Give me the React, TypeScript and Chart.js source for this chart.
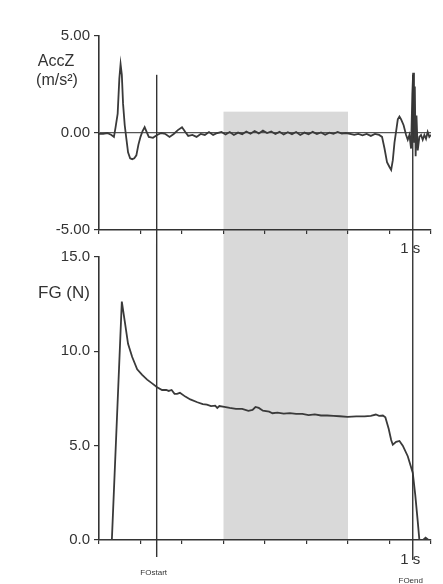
import { useEffect, useRef } from 'react';
import { Chart, registerables } from 'chart.js';

Chart.register(...registerables);

// x axis in tick units (9 ticks, 0..8)
const xTicks = [0, 1, 2, 3, 4, 5, 6, 7, 8];
const accTicks = [-5, 0, 5];
const fgTicks = [0, 5, 10, 15];

const accTime = [
  0, 0.1, 0.2, 0.3, 0.36, 0.4, 0.45, 0.49, 0.52, 0.55, 0.58, 0.62, 0.66, 0.7, 0.75, 0.8, 0.85, 0.9, 0.95, 1.0,
  1.05, 1.1, 1.15, 1.2, 1.3, 1.4, 1.5, 1.6, 1.7, 1.8, 1.9, 2.0, 2.08, 2.15, 2.25, 2.35, 2.45, 2.55, 2.65, 2.75,
  2.85, 2.95, 3.05, 3.15, 3.25, 3.35, 3.45, 3.55, 3.65, 3.75, 3.85, 3.95, 4.05, 4.15, 4.25, 4.35, 4.45, 4.55,
  4.65, 4.75, 4.85, 4.95, 5.05, 5.15, 5.25, 5.35, 5.45, 5.55, 5.65, 5.75, 5.85, 5.95, 6.05, 6.15, 6.25, 6.35,
  6.45, 6.55, 6.65, 6.75, 6.82, 6.88, 6.94, 7.0, 7.04, 7.08, 7.12, 7.16, 7.2, 7.24, 7.28, 7.34, 7.4, 7.44, 7.48,
  7.52, 7.55, 7.57, 7.59, 7.61, 7.63, 7.65, 7.68, 7.72, 7.76, 7.8, 7.84, 7.88, 7.92, 7.96, 8.0,
];
const accValue = [
  -0.05, -0.05, 0.0, -0.1, -0.2, 0.3, 1.0, 2.8, 3.55, 3.0, 1.5, 0.4, -0.3, -1.0, -1.3, -1.35, -1.3, -1.15, -0.6, -0.2,
  0.1, 0.3, 0.05, -0.2, -0.25, -0.1, 0.0, -0.05, -0.2, -0.05, 0.15, 0.3, 0.05, -0.15, -0.1, -0.2, -0.05, -0.1, 0.05, -0.1,
  0.0, 0.05, -0.08, 0.05, -0.1, 0.02, -0.06, 0.08, -0.04, 0.1, -0.02, 0.12, 0.0, 0.08, -0.05, 0.06, -0.08, 0.04,
  -0.06, 0.05, -0.1, 0.02, -0.07, 0.06, -0.05, 0.03, -0.09, 0.02, -0.04, 0.05, -0.03, 0.0, -0.05, -0.1, -0.05, -0.12,
  -0.05, -0.15, -0.05, -0.1, -0.2, -0.8, -1.5, -1.75, -1.9, -1.4, -0.5, 0.1, 0.7, 0.85, 0.7, 0.4, -0.1, -0.35, -0.1,
  -0.8, 2.0, 3.1, -0.5, 2.4, -1.2, 0.9, -0.9, -0.2, -0.1, -0.35, -0.1, -0.3, 0.05, -0.2, -0.1,
];

const fgTime = [
  0, 0.31, 0.55, 0.62, 0.7, 0.8, 0.92, 1.04, 1.16, 1.28, 1.4, 1.52, 1.62, 1.68, 1.75, 1.82, 1.88, 1.95, 2.08, 2.2,
  2.37, 2.5, 2.6, 2.7, 2.8, 2.85, 2.9, 3.02, 3.15, 3.3, 3.45, 3.6, 3.7, 3.77, 3.85, 3.95, 4.1, 4.18, 4.3, 4.45,
  4.6, 4.75, 4.9, 5.05, 5.2, 5.35, 5.5, 5.65, 5.8, 5.99, 6.2, 6.4, 6.55, 6.67, 6.75, 6.84, 6.9, 6.98, 7.04, 7.08,
  7.16, 7.24, 7.32, 7.44, 7.56, 7.62, 7.68, 7.72, 7.78, 7.87, 7.94, 8.0,
];
const fgValue = [
  0, 0, 12.64, 11.6, 10.4, 9.7, 9.05, 8.75, 8.5, 8.3, 8.1, 7.95, 7.95, 7.9, 7.95, 7.75, 7.75, 7.8, 7.6, 7.45,
  7.3, 7.2, 7.18, 7.1, 7.12, 7.0, 7.1, 7.05, 7.0, 6.95, 6.95, 6.85, 6.9, 7.05, 7.0, 6.85, 6.8, 6.72, 6.75, 6.7,
  6.72, 6.68, 6.68, 6.62, 6.66, 6.6, 6.6, 6.58, 6.56, 6.53, 6.55, 6.55, 6.58, 6.65, 6.58, 6.6, 6.5, 5.9, 5.3, 5.05,
  5.2, 5.25, 5.0, 4.44, 3.57, 2.4, 1.0, 0.0, -0.05, 0.12, 0.0, 0.0,
];

// markers (x in tick units, y in axis units)
const shadeStart = 3;
const shadeEnd = 6;
const shadeTopAcc = 1.1;
const foStart = 1.39;
const foEnd = 7.56;
const markerTopAcc = 3;
const oneSecond = 7.5;

const FONT = "'Liberation Sans', Arial, sans-serif";
const INK = '#333333';
const SHADE = '#d9d9d9';

const TOP_H = 260;
const SPLIT = 244; // page y where the bottom canvas starts
const BOT_H = 584 - SPLIT;
const LEFT = 99;
const RIGHT_PAD = 12;

function drawText(ctx: CanvasRenderingContext2D, text: string, x: number, y: number, size: number) {
  ctx.save();
  ctx.fillStyle = INK;
  ctx.font = `${size}px ${FONT}`;
  ctx.textAlign = 'center';
  ctx.textBaseline = 'middle';
  ctx.fillText(text, x, y);
  ctx.restore();
}

function vline(ctx: CanvasRenderingContext2D, x: number, y0: number, y1: number) {
  ctx.save();
  ctx.strokeStyle = INK;
  ctx.lineWidth = 1.4;
  ctx.beginPath();
  ctx.moveTo(x, y0);
  ctx.lineTo(x, y1);
  ctx.stroke();
  ctx.restore();
}

const topOverlay = {
  id: 'topOverlay',
  beforeDraw(chart: any) {
    const { ctx, scales } = chart;
    const x0 = scales.x.getPixelForValue(shadeStart);
    const x1 = scales.x.getPixelForValue(shadeEnd);
    const yt = scales.y.getPixelForValue(shadeTopAcc);
    ctx.save();
    ctx.fillStyle = SHADE;
    ctx.fillRect(x0, yt, x1 - x0, SPLIT - yt);
    ctx.restore();
  },
  afterDraw(chart: any) {
    const { ctx, scales, chartArea } = chart;
    const yt = scales.y.getPixelForValue(markerTopAcc);
    vline(ctx, scales.x.getPixelForValue(foStart), yt, SPLIT);
    vline(ctx, scales.x.getPixelForValue(foEnd), yt, SPLIT);
    drawText(ctx, 'AccZ', 56, scales.y.getPixelForValue(3.7), 16);
    drawText(ctx, '(m/s²)', 57, scales.y.getPixelForValue(2.7), 16);
    drawText(ctx, '1 s', scales.x.getPixelForValue(oneSecond), chartArea.bottom + 19, 15);
  },
};

const bottomOverlay = {
  id: 'bottomOverlay',
  beforeDraw(chart: any) {
    const { ctx, scales } = chart;
    const x0 = scales.x.getPixelForValue(shadeStart);
    const x1 = scales.x.getPixelForValue(shadeEnd);
    const yb = scales.y.getPixelForValue(0);
    ctx.save();
    ctx.fillStyle = SHADE;
    ctx.fillRect(x0, 0, x1 - x0, yb);
    ctx.restore();
  },
  afterDraw(chart: any) {
    const { ctx, scales, chartArea } = chart;
    const xs = scales.x.getPixelForValue(foStart);
    const xe = scales.x.getPixelForValue(foEnd);
    vline(ctx, xs, 0, chartArea.bottom + 17);
    vline(ctx, xe, 0, chartArea.bottom + 20);
    drawText(ctx, 'FG (N)', 64, scales.y.getPixelForValue(13.1), 17);
    drawText(ctx, '1 s', scales.x.getPixelForValue(oneSecond), chartArea.bottom + 20, 15);
    drawText(ctx, 'FOstart', xs - 3, chartArea.bottom + 33, 8);
    drawText(ctx, 'FOend', xe - 2, chartArea.bottom + 41, 8);
  },
};

function xScale(height: number) {
  return {
    type: 'linear',
    min: 0,
    max: 8,
    afterBuildTicks: (s: any) => {
      s.ticks = xTicks.map((v) => ({ value: v }));
    },
    ticks: { display: false },
    grid: { drawOnChartArea: false, drawTicks: true, tickLength: 4, color: INK, lineWidth: 1.2 },
    border: { display: true, color: INK, width: 1.6 },
    afterFit: (s: any) => {
      s.height = height;
    },
  };
}

function yScale(min: number, max: number, ticks: number[], digits: number, width: number, zeroLine: boolean) {
  return {
    type: 'linear',
    min,
    max,
    afterBuildTicks: (s: any) => {
      s.ticks = ticks.map((v) => ({ value: v }));
    },
    ticks: {
      callback: (v: any) => Number(v).toFixed(digits),
      color: INK,
      font: { family: FONT, size: 15 },
      padding: 4,
    },
    grid: {
      color: (c: any) => (zeroLine && c.tick && c.tick.value === 0 ? '#555555' : 'rgba(0,0,0,0)'),
      tickColor: INK,
      tickLength: 5,
      lineWidth: 1.2,
      drawTicks: true,
    },
    border: { display: true, color: INK, width: 1.6 },
    afterFit: (s: any) => {
      s.width = width;
    },
  };
}

export default function App() {
  const topRef = useRef<HTMLCanvasElement>(null);
  const botRef = useRef<HTMLCanvasElement>(null);

  useEffect(() => {
    const top = new Chart(topRef.current as HTMLCanvasElement, {
      type: 'line',
      data: {
        datasets: [
          {
            data: accTime.map((t, i) => ({ x: t, y: accValue[i] })),
            borderColor: '#3a3a3a',
            borderWidth: 1.8,
            pointRadius: 0,
            tension: 0,
          },
        ],
      },
      options: {
        animation: false,
        responsive: false,
        events: [],
        layout: { padding: { left: 0, right: RIGHT_PAD, top: 36, bottom: 0 } },
        plugins: { legend: { display: false }, tooltip: { enabled: false } },
        scales: {
          x: xScale(TOP_H - 230),
          y: yScale(-5, 5, accTicks, 2, LEFT, true),
        },
      } as any,
      plugins: [topOverlay],
    });
    const bot = new Chart(botRef.current as HTMLCanvasElement, {
      type: 'line',
      data: {
        datasets: [
          {
            data: fgTime.map((t, i) => ({ x: t, y: fgValue[i] })),
            borderColor: '#3a3a3a',
            borderWidth: 1.8,
            pointRadius: 0,
            tension: 0,
          },
        ],
      },
      options: {
        animation: false,
        responsive: false,
        events: [],
        layout: { padding: { left: 0, right: RIGHT_PAD, top: 253 - SPLIT, bottom: 0 } },
        plugins: { legend: { display: false }, tooltip: { enabled: false } },
        scales: {
          x: xScale(BOT_H - (540 - SPLIT)),
          y: yScale(0, 15, fgTicks, 1, LEFT, false),
        },
      } as any,
      plugins: [bottomOverlay],
    });
    return () => {
      top.destroy();
      bot.destroy();
    };
  }, []);

  return (
    <div style={{ position: 'fixed', left: 0, top: 0, width: 443, height: 584, background: '#ffffff' }}>
      <canvas ref={botRef} width={443} height={BOT_H} style={{ position: 'absolute', left: 0, top: SPLIT, width: 443, height: BOT_H }} />
      <canvas ref={topRef} width={443} height={TOP_H} style={{ position: 'absolute', left: 0, top: 0, width: 443, height: TOP_H }} />
    </div>
  );
}
